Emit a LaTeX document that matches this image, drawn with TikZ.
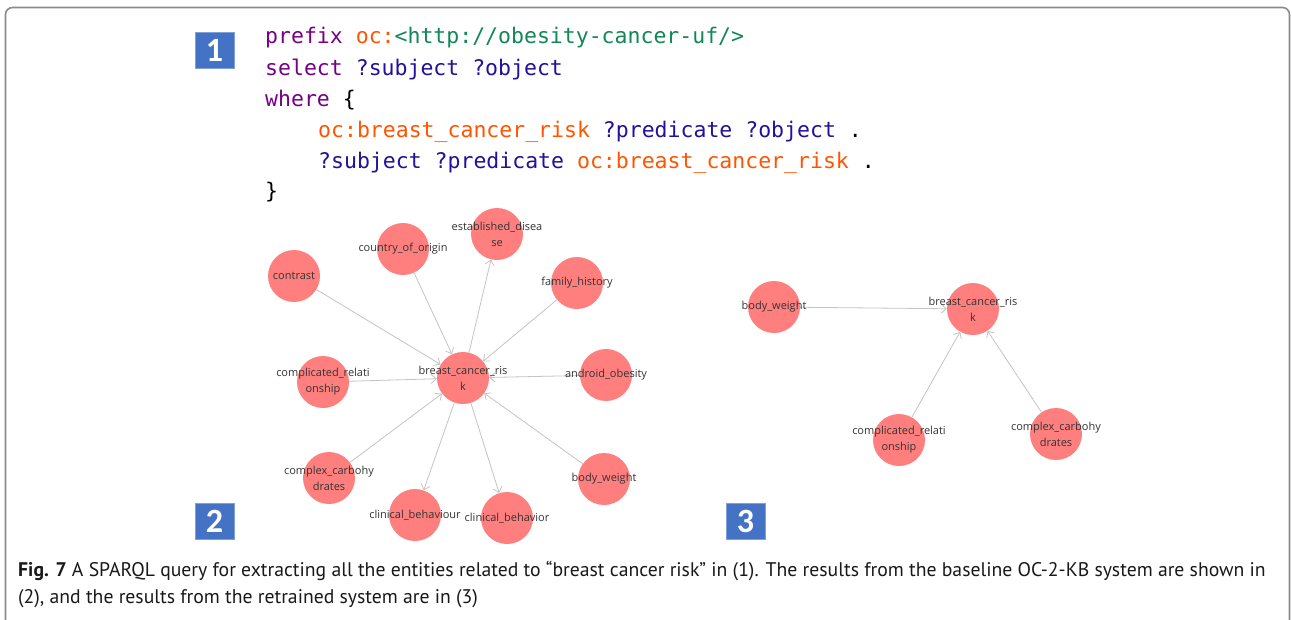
\documentclass[tikz,border=0pt]{standalone}
\usepackage{fontspec}
\setmainfont{PT Sans}
\setmonofont{DejaVu Sans Mono}
\newfontfamily\lblfont{Open Sans}
\newfontfamily\boxfont{Carlito}
\usetikzlibrary{arrows.meta}
\definecolor{kw}{HTML}{770088}
\definecolor{atom}{HTML}{FF5500}
\definecolor{urlc}{HTML}{118855}
\definecolor{var}{HTML}{221199}
\definecolor{dotc}{HTML}{FF7F7F}
\definecolor{edgec}{HTML}{C4C4C4}
\definecolor{boxc}{HTML}{4472C4}
\definecolor{boxb}{HTML}{7F9FD8}
\definecolor{framec}{HTML}{8A8A8A}
\definecolor{lblc}{HTML}{333333}
\tikzset{
  entity/.style={circle, fill=dotc, minimum size=52pt, inner sep=0pt},
  lbl/.style={font=\lblfont\fontsize{11}{16}\selectfont, text=lblc, align=center, inner sep=0pt},
  conn/.style={draw=edgec, line width=0.8pt, -{Straight Barb[length=5pt,width=9pt]}},
  numbox/.style={fill=boxc, draw=boxb, line width=1pt, minimum width=39pt, minimum height=36pt, inner sep=0pt, text=white, font=\boxfont\bfseries\fontsize{34}{34}\selectfont},
  codeline/.style={anchor=base west, inner sep=0pt, font=\ttfamily\fontsize{21.5}{21.5}\selectfont},
  captxt/.style={anchor=base west, inner sep=0pt, text=black!90, font=\fontsize{19.7}{19.7}\selectfont}
}
\begin{document}
\begin{tikzpicture}[x=1pt,y=-1pt]
\useasboundingbox (0,0) rectangle (1292,619);
\fill[white] (0,0) rectangle (1292,619);
% frame
\draw[framec, line width=1.6pt, rounded corners=7pt] (5.5,640) -- (5.5,7.5) -- (1289.5,7.5) -- (1289.5,640);

% panel 1: code
\node[numbox] (b1) at (214.5,50) {1};
\node[codeline] (l1) at (265,43) {\textcolor{kw}{prefix} \textcolor{atom}{oc:}\textcolor{urlc}{<http://obesity-cancer-uf/>}};
\node[codeline] (l2) at (265,75) {\textcolor{kw}{select} \textcolor{var}{?subject ?object}};
\node[codeline] (l3) at (265,106) {\textcolor{kw}{where} \{};
\node[codeline] (l4) at (318,137) {\textcolor{atom}{oc:breast\_cancer\_risk} \textcolor{var}{?predicate ?object} .};
\node[codeline] (l5) at (318,168) {\textcolor{var}{?subject ?predicate} \textcolor{atom}{oc:breast\_cancer\_risk} .};
\node[codeline] (l6) at (265,198) {\}};

% panel 2
\node[numbox] (b2) at (214.5,521.5) {2};
\node[entity] (bcr) at (463,378) {};
\node[entity] (con) at (294,276) {};
\node[entity] (coo) at (403,249) {};
\node[entity] (est) at (497,234) {};
\node[entity] (fam) at (577,283) {};
\node[entity] (cre) at (323,382) {};
\node[entity] (and) at (606,375) {};
\node[entity] (ccb) at (329,478) {};
\node[entity] (bw) at (604,479) {};
\node[entity] (cbu) at (415,515) {};
\node[entity] (cbo) at (507,518) {};
\draw[conn] (con) -- (bcr);
\draw[conn] (coo) -- (bcr);
\draw[conn] (bcr) -- (est);
\draw[conn] (fam) -- (bcr);
\draw[conn] (cre) -- (bcr);
\draw[conn] (and) -- (bcr);
\draw[conn] (ccb) -- (bcr);
\draw[conn] (bw) -- (bcr);
\draw[conn] (bcr) -- (cbu);
\draw[conn] (bcr) -- (cbo);
\node[lbl] at (bcr) {breast\_cancer\_ris\\k};
\node[lbl] at (con) {contrast};
\node[lbl] at (coo) {country\_of\_origin};
\node[lbl] at (est) {established\_disea\\se};
\node[lbl] at (fam) {family\_history};
\node[lbl] at (cre) {complicated\_relati\\onship};
\node[lbl] at (and) {android\_obesity};
\node[lbl] at (ccb) {complex\_carbohy\\drates};
\node[lbl] at (bw) {body\_weight};
\node[lbl] at (cbu) {clinical\_behaviour};
\node[lbl] at (cbo) {clinical\_behavior};

% panel 3
\node[numbox] (b3) at (745.5,521.5) {3};
\node[entity] (r) at (973,309) {};
\node[entity] (rbw) at (774,307) {};
\node[entity] (rcr) at (899,440) {};
\node[entity] (rcc) at (1056,434) {};
\draw[conn] (rbw) -- (r);
\draw[conn] (rcr) -- (r);
\draw[conn] (rcc) -- (r);
\node[lbl] at (r) {breast\_cancer\_ris\\k};
\node[lbl] at (rbw) {body\_weight};
\node[lbl] at (rcr) {complicated\_relati\\onship};
\node[lbl] at (rcc) {complex\_carbohy\\drates};

% caption
\node[captxt] (c1) at (18,576) {\textbf{Fig. 7} A SPARQL query for extracting all the entities related to “breast cancer risk” in (1). The results from the baseline OC-2-KB system are shown in};
\node[captxt] (c2) at (18,603) {(2), and the results from the retrained system are in (3)};
\end{tikzpicture}
\end{document}
